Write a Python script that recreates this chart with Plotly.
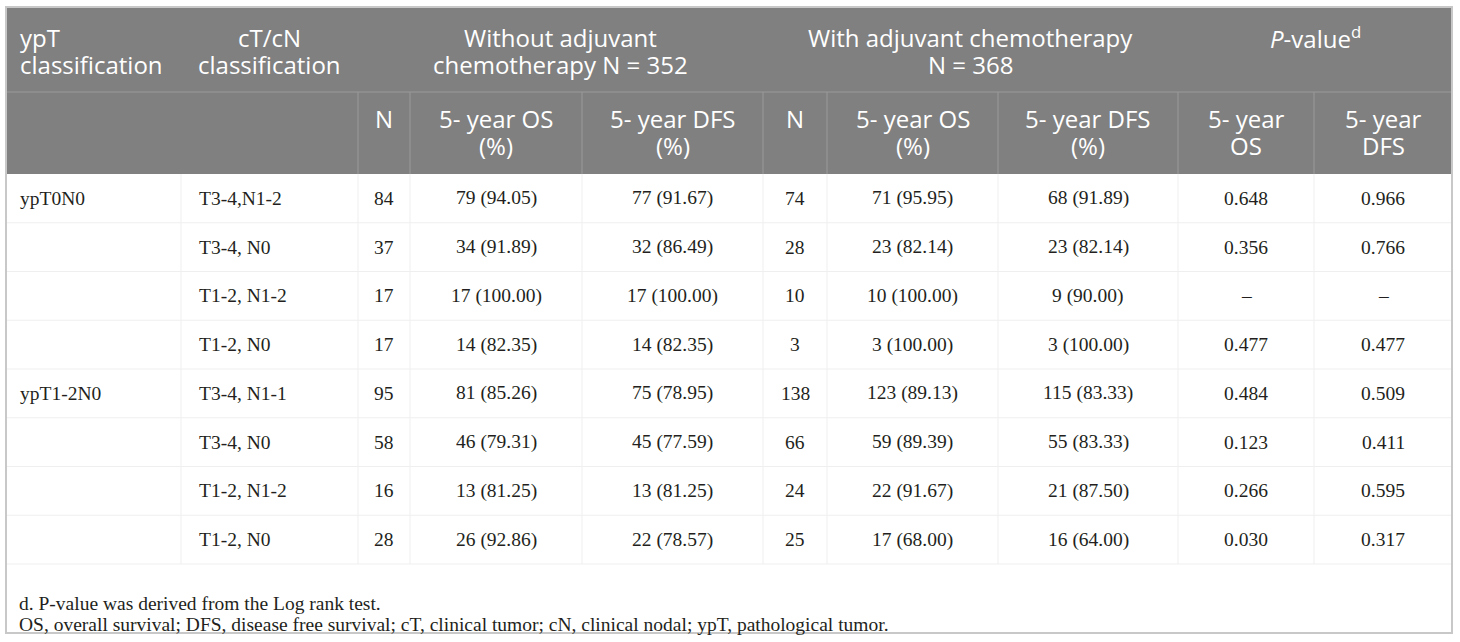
import plotly.graph_objects as go

#++++++++++++++++++++++++++++++++++++
# Table data
#++++++++++++++++++++++++++++++++++++

YPT_CLASS   = ["ypT0N0", "", "", "", "ypT1-2N0", "", "", ""]
CTCN_CLASS  = ["T3-4,N1-2", "T3-4, N0", "T1-2, N1-2", "T1-2, N0",
               "T3-4, N1-1", "T3-4, N0", "T1-2, N1-2", "T1-2, N0"]

N_WITHOUT       = [84, 37, 17, 17, 95, 58, 16, 28]
OS_WITHOUT_N    = [79, 34, 17, 14, 81, 46, 13, 26]
OS_WITHOUT_PCT  = [94.05, 91.89, 100.00, 82.35, 85.26, 79.31, 81.25, 92.86]
DFS_WITHOUT_N   = [77, 32, 17, 14, 75, 45, 13, 22]
DFS_WITHOUT_PCT = [91.67, 86.49, 100.00, 82.35, 78.95, 77.59, 81.25, 78.57]

N_WITH       = [74, 28, 10, 3, 138, 66, 24, 25]
OS_WITH_N    = [71, 23, 10, 3, 123, 59, 22, 17]
OS_WITH_PCT  = [95.95, 82.14, 100.00, 100.00, 89.13, 89.39, 91.67, 68.00]
DFS_WITH_N   = [68, 23, 9, 3, 115, 55, 21, 16]
DFS_WITH_PCT = [91.89, 82.14, 90.00, 100.00, 83.33, 83.33, 87.50, 64.00]

P_OS  = [0.648, 0.356, None, 0.477, 0.484, 0.123, 0.266, 0.030]
P_DFS = [0.966, 0.766, None, 0.477, 0.509, 0.411, 0.595, 0.317]

GROUP_HEADERS = ["Without adjuvant<br>chemotherapy N = 352",
                 "With adjuvant chemotherapy<br>N = 368",
                 "<i>P</i>-value<sup>d</sup>"]
SUB_HEADERS   = ["N", "5- year OS<br>(%)", "5- year DFS<br>(%)",
                 "N", "5- year OS<br>(%)", "5- year DFS<br>(%)",
                 "5- year<br>OS", "5- year<br>DFS"]
FOOTNOTES = ["d. P-value was derived from the Log rank test.",
             "OS, overall survival; DFS, disease free survival; cT, clinical tumor; "
             "cN, clinical nodal; ypT, pathological tumor."]

#++++++++++++++++++++++++++++++++++++
# Layout settings
#++++++++++++++++++++++++++++++++++++

W, H = 1460, 642
COL_EDGES = [6, 181, 358, 410, 582, 763, 827, 998, 1178, 1314, 1452]
TOP, HEAD_SPLIT, BODY_TOP, ROW_H = 7, 92, 174, 48.75
BOTTOM = 633
HEAD_BG = "#808080"
HEAD_LINE = "#9a9a9a"
BODY_LINE = "#efefef"
BORDER = "#c8c8c8"
TEXT = "#231f20"
SANS = "Open Sans"
SERIF = "Liberation Serif"
HEAD_SIZE = 24
BODY_SIZE = 19.5
LINE_GAP = 27


def fmt_pair(n, pct):
    return f"{n} ({pct:.2f})"


def fmt_p(p):
    return "–" if p is None else f"{p:.3f}"


def center(i, j=None):
    j = i if j is None else j
    return (COL_EDGES[i] + COL_EDGES[j + 1]) / 2


fig = go.Figure()
shapes, annots = [], []

def text(x, y, s, font, size, color, xanchor="center"):
    annots.append(dict(x=x, y=y, text=s, showarrow=False, xanchor=xanchor, yanchor="middle",
                       font=dict(family=font, size=size, color=color)))

def multiline(x, y0, s, xanchor="center"):
    for k, line in enumerate(s.split("<br>")):
        text(x, y0 + k * LINE_GAP, line, SANS, HEAD_SIZE, "white", xanchor)

# header background
shapes.append(dict(type="rect", x0=COL_EDGES[0], x1=COL_EDGES[-1], y0=TOP, y1=BODY_TOP,
                   fillcolor=HEAD_BG, line=dict(width=0), layer="below"))
shapes.append(dict(type="line", x0=COL_EDGES[0], x1=COL_EDGES[-1], y0=HEAD_SPLIT, y1=HEAD_SPLIT,
                   line=dict(color=HEAD_LINE, width=1)))
for e in COL_EDGES[2:-1]:
    shapes.append(dict(type="line", x0=e, x1=e, y0=HEAD_SPLIT, y1=BODY_TOP,
                       line=dict(color=HEAD_LINE, width=1)))

# header text
r1, r2 = 37, 118
multiline(COL_EDGES[0] + 12, r1, "ypT<br>classification", xanchor="left")
multiline(center(1), r1, "cT/cN<br>classification")
multiline(center(2, 4), r1, GROUP_HEADERS[0])
multiline(center(5, 7), r1, GROUP_HEADERS[1])
text(center(8, 9), r1, GROUP_HEADERS[2], SANS, HEAD_SIZE, "white")
for k, s in enumerate(SUB_HEADERS):
    multiline(center(k + 2), r2, s)

# body
n_rows = len(CTCN_CLASS)
columns = [
    YPT_CLASS, CTCN_CLASS, [str(v) for v in N_WITHOUT],
    [fmt_pair(a, b) for a, b in zip(OS_WITHOUT_N, OS_WITHOUT_PCT)],
    [fmt_pair(a, b) for a, b in zip(DFS_WITHOUT_N, DFS_WITHOUT_PCT)],
    [str(v) for v in N_WITH],
    [fmt_pair(a, b) for a, b in zip(OS_WITH_N, OS_WITH_PCT)],
    [fmt_pair(a, b) for a, b in zip(DFS_WITH_N, DFS_WITH_PCT)],
    [fmt_p(v) for v in P_OS], [fmt_p(v) for v in P_DFS],
]
body_bottom = BODY_TOP + n_rows * ROW_H
for r in range(1, n_rows + 1):
    y = BODY_TOP + r * ROW_H
    shapes.append(dict(type="line", x0=COL_EDGES[0], x1=COL_EDGES[-1], y0=y, y1=y,
                       line=dict(color=BODY_LINE, width=1)))
for e in COL_EDGES[1:-1]:
    shapes.append(dict(type="line", x0=e, x1=e, y0=BODY_TOP, y1=body_bottom,
                       line=dict(color=BODY_LINE, width=1)))
for c, col in enumerate(columns):
    for r, s in enumerate(col):
        if not s:
            continue
        y = BODY_TOP + (r + 0.5) * ROW_H
        if c < 2:
            text(COL_EDGES[c] + (12 if c == 0 else 16), y, s, SERIF, BODY_SIZE, TEXT, "left")
        else:
            text(center(c), y, s, SERIF, BODY_SIZE, TEXT)

# footnotes
for k, s in enumerate(FOOTNOTES):
    text(COL_EDGES[0] + 11, 603 + k * 21, s, SERIF, 19.5, TEXT, "left")

# outer border
shapes.append(dict(type="rect", x0=COL_EDGES[0], x1=COL_EDGES[-1], y0=TOP, y1=BOTTOM,
                   line=dict(color=BORDER, width=2), fillcolor="rgba(0,0,0,0)"))

fig.update_layout(
    width=W, height=H,
    margin=dict(l=0, r=0, t=0, b=0),
    paper_bgcolor="white", plot_bgcolor="white",
    xaxis=dict(range=[0, W], visible=False, fixedrange=True),
    yaxis=dict(range=[H, 0], visible=False, fixedrange=True),
    shapes=shapes, annotations=annots, showlegend=False,
)

# page body has a default 8px margin; drop it so the table sits at the window corner
fig.write_html("out.html", config=dict(displayModeBar=False),
               post_script="document.body.style.margin='0';document.body.style.overflow='hidden';")
